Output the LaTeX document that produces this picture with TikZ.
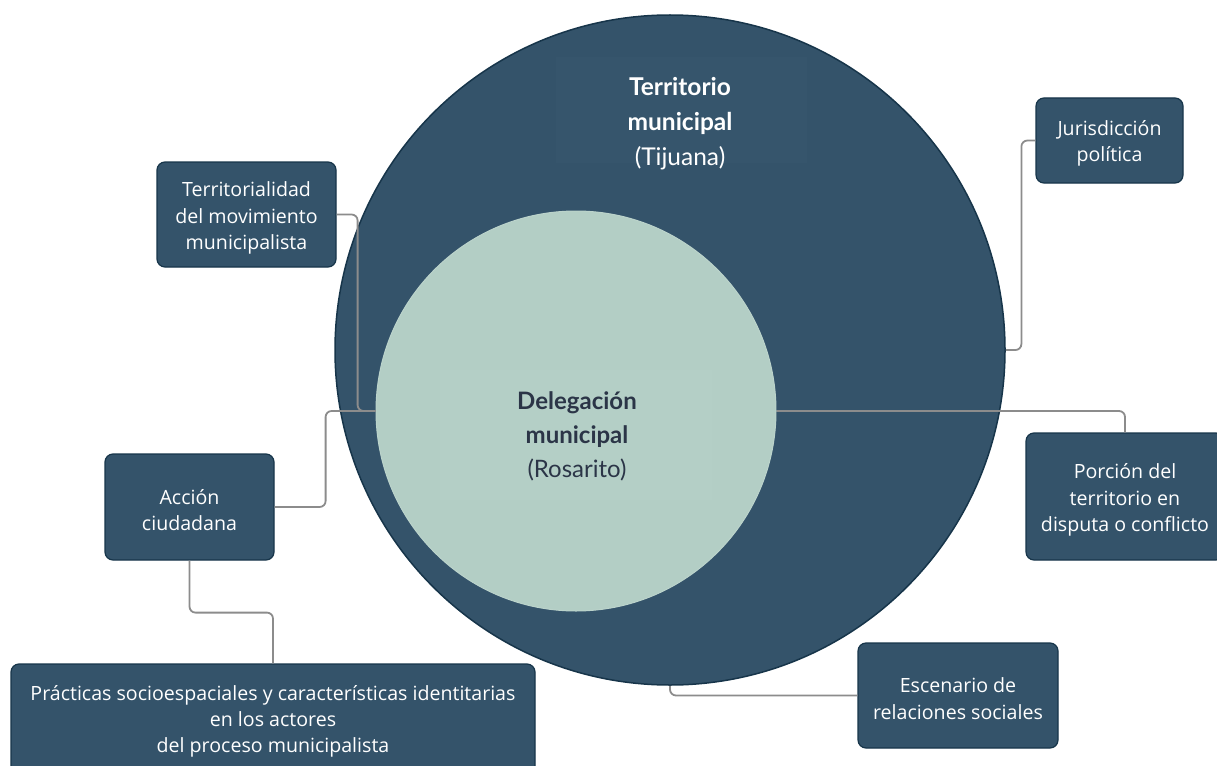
\documentclass[tikz,border=0pt]{standalone}
\usepackage{fontspec}
\setmainfont{Open Sans}
\newfontfamily\lato{Lato}
\definecolor{darkfill}{HTML}{34536A}
\definecolor{darkline}{HTML}{17354A}
\definecolor{lightfill}{HTML}{B3CEC5}
\definecolor{connc}{HTML}{8C8C8C}
\definecolor{deltext}{HTML}{2B3547}
\tikzset{
  box/.style={draw=darkline, line width=1.2pt, fill=darkfill, rounded corners=8pt, inner sep=0pt},
  boxtext/.style={text=white, align=center, inner sep=0pt,
    font=\fontsize{19.6}{26.3}\selectfont},
  conn/.style={draw=connc, line width=1.8pt, rounded corners=6pt},
}
\begin{document}
\begin{tikzpicture}[x=1pt,y=-1pt]
\useasboundingbox (0,0) rectangle (1217,765);
\clip (0,0) rectangle (1217,765);
% circles
\node[circle, draw=darkline, line width=1.5pt, fill=darkfill, minimum size=670pt, inner sep=0pt] (bigc) at (670,350) {};
\fill[darkfill!99!white] (556,57) rectangle (807,163);
\node[circle, fill=lightfill, draw=lightfill!90!white, line width=1pt, minimum size=400pt, inner sep=0pt] (deleg) at (576,411) {};
\fill[lightfill!99!white] (440,370) rectangle (712,500);
% circle labels
\node[text=white, align=center, font=\lato\fontsize{24.5}{35}\selectfont] (tijt) at (680,124)
  {\textbf{Territorio}\\\textbf{municipal}\\(Tijuana)};
\node[text=deltext, align=center, font=\lato\fontsize{24}{34}\selectfont] (delt) at (577,436.5)
  {\textbf{Delegación}\\\textbf{municipal}\\(Rosarito)};
% boxes
\node[box, minimum width=179pt, minimum height=105pt] (terr) at (246.5,214.5) {};
\node[box, minimum width=147pt, minimum height=85pt] (jur) at (1109.5,140.5) {};
\node[box, minimum width=198pt, minimum height=127pt] (porc) at (1125,496.5) {};
\node[box, minimum width=169pt, minimum height=106pt] (acc) at (189.5,507) {};
\node[box, minimum width=524pt, minimum height=112pt] (prac) at (273,720) {};
\node[box, minimum width=200pt, minimum height=105pt] (esc) at (958,695.5) {};
% box texts
\node[boxtext] (terrt) at ([yshift=-3.5pt]terr.center) {Territorialidad\\del movimiento\\municipalista};
\node[boxtext] (jurt) at ([yshift=-3pt]jur.center) {Jurisdicción\\política};
\node[boxtext] (porct) at ([yshift=-3.5pt]porc.center) {Porción del\\territorio en\\disputa o conflicto};
\node[boxtext] (acct) at ([yshift=-3pt]acc.center) {Acción\\ciudadana};
\node[boxtext] (pract) at ([yshift=-1.5pt]prac.center) {Prácticas socioespaciales y características identitarias\\en los actores\\del proceso municipalista};
\node[boxtext] (esct) at ([yshift=-3pt]esc.center) {Escenario de\\relaciones sociales};
% connectors
\draw[conn] (terr.east) -- ++(21,0) |- (deleg.west);
\draw[conn] (acc.east) -- ++(51,0) |- (deleg.west);
\draw[conn] (acc.south) -- ++(0,52) -| (prac.north);
\draw[conn] (jur.west) -- ++(-14,0) |- (bigc.east);
\draw[conn] (deleg.east) -| (porc.north);
\draw[conn] (esc.west) -| (bigc.south);
\end{tikzpicture}
\end{document}
